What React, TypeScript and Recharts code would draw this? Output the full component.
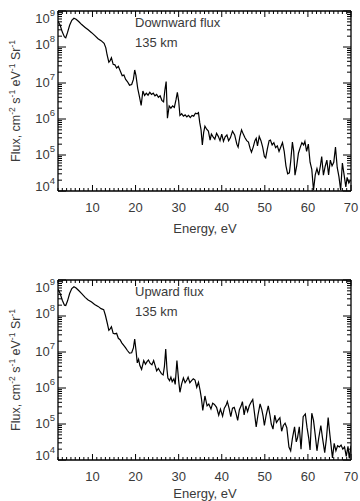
import { LineChart, Line, XAxis, YAxis } from 'recharts';

const FONT = '"Liberation Sans", Arial, Helvetica, sans-serif';
const INK = '#3a3a3a';

// Downward flux at 135 km: energy (eV) and flux (cm^-2 s^-1 eV^-1 Sr^-1)
const downEnergy = [
  2.0, 2.5, 3.0, 3.5, 3.8, 4.2, 4.7, 5.2, 5.7, 6.2,
  6.8, 7.5, 8.3, 9.0, 9.8, 10.5, 11.3, 12.0, 12.7, 13.1,
  13.4, 13.8, 14.1, 14.4, 14.8, 15.2, 15.6, 16.0, 16.5, 16.9,
  17.3, 17.7, 18.1, 18.6, 19.1, 19.5, 19.8, 20.1, 20.5, 20.9,
  21.3, 21.7, 22.1, 22.5, 22.9, 23.3, 23.7, 24.1, 24.5, 24.9,
  25.3, 25.7, 26.1, 26.5, 26.8, 27.1, 27.4, 27.8, 28.2, 28.6,
  29.0, 29.4, 29.7, 30.0, 30.3, 30.7, 31.1, 31.5, 31.9, 32.3,
  32.7, 33.1, 33.5, 33.9, 34.3, 34.6, 34.9, 35.2, 35.5, 35.8,
  36.1, 36.5, 36.9, 37.3, 37.6, 38.0, 38.4, 38.8, 39.2, 39.6,
  40.0, 40.4, 40.8, 41.2, 41.6, 42.0, 42.5, 43.0, 43.5, 43.8,
  44.2, 44.6, 45.0, 45.4, 45.8, 46.2, 46.6, 46.9, 47.3, 47.7,
  48.0, 48.3, 48.7, 49.1, 49.5, 49.9, 50.2, 50.6, 51.0, 51.3,
  51.7, 52.1, 52.5, 52.9, 53.3, 53.7, 54.1, 54.5, 54.9, 55.3,
  55.7, 56.0, 56.4, 56.7, 57.0, 57.4, 57.8, 58.2, 58.6, 59.0,
  59.3, 59.7, 60.1, 60.5, 60.9, 61.3, 61.7, 62.1, 62.5, 62.9,
  63.2, 63.6, 64.0, 64.4, 64.8, 65.2, 65.6, 66.0, 66.4, 66.8,
  67.2, 67.6, 68.0, 68.4, 68.8, 69.1, 69.5, 69.9,
];
const downFlux = [
  5.2e8, 4.0e8, 2.6e8, 1.9e8, 1.8e8, 2.5e8, 4.0e8, 5.5e8, 6.3e8, 5.9e8,
  5.1e8, 4.2e8, 3.5e8, 3.0e8, 2.5e8, 2.1e8, 1.7e8, 1.5e8, 1.26e8, 9.5e7,
  6.0e7, 3.8e7, 4.2e7, 5.0e7, 3.3e7, 3.2e7, 2.6e7, 2.9e7, 2.1e7, 1.6e7,
  1.66e7, 1.26e7, 1.1e7, 8.7e6, 9.1e6, 1.26e7, 2.3e7, 1.6e7, 7.1e6, 4.2e6,
  2.4e6, 6.0e6, 4.5e6, 5.2e6, 4.6e6, 5.5e6, 4.8e6, 5.2e6, 4.4e6, 4.8e6,
  4.0e6, 4.4e6, 3.3e6, 3.0e6, 6.3e6, 1.1e7, 1.05e6, 2.3e6, 2.0e6, 2.3e6,
  2.1e6, 3.5e6, 5.5e6, 3.2e6, 1.26e6, 1.4e6, 1.2e6, 1.3e6, 1.15e6, 1.26e6,
  1.1e6, 1.26e6, 1.2e6, 1.45e6, 1.4e6, 1.5e6, 7.9e5, 5.0e5, 1.9e5, 4.2e5,
  6.3e5, 5.2e5, 4.6e5, 2.6e5, 3.8e5, 3.2e5, 2.75e5, 4.0e5, 3.3e5, 2.5e5,
  3.8e5, 2.4e5, 3.2e5, 3.6e5, 2.5e5, 3.0e5, 4.6e5, 3.6e5, 2.0e5, 1.66e5,
  3.2e5, 5.0e5, 3.8e5, 3.0e5, 2.5e5, 2.3e5, 1.5e5, 1.2e5, 1.66e5, 2.5e5,
  2.9e5, 1.8e5, 3.3e5, 2.5e5, 1.66e5, 9.1e4, 8.3e4, 1.5e5, 2.5e5, 2.6e5,
  1.9e5, 2.2e5, 1.6e5, 1.8e5, 1.26e5, 1.66e5, 2.2e5, 1.26e5, 5.0e4, 3.0e4,
  3.2e4, 6.6e4, 2.3e5, 1.26e5, 2.75e4, 5.0e4, 1.12e5, 1.6e5, 2.2e5, 1.9e5,
  2.4e5, 1.26e5, 2.0e5, 6.3e4, 4.0e4, 1.05e4, 2.8e4, 4.2e4, 2.75e4, 5.0e4,
  9.1e4, 2.75e4, 4.8e4, 7.2e4, 2.8e4, 7.2e4, 5.0e4, 6.3e4, 1.66e5, 4.5e4,
  2.5e4, 1.05e4, 6.0e4, 2.8e4, 1.3e4, 2.4e4, 1.66e4, 2.0e4,
];

// Upward flux at 135 km
const upEnergy = [
  2.0, 2.5, 3.0, 3.5, 3.8, 4.2, 4.7, 5.2, 5.7, 6.2,
  6.8, 7.5, 8.3, 9.0, 9.8, 10.5, 11.3, 12.0, 12.6, 13.0,
  13.4, 13.8, 14.1, 14.4, 14.8, 15.2, 15.6, 16.0, 16.4, 16.8,
  17.3, 17.7, 18.1, 18.6, 19.1, 19.5, 19.8, 20.1, 20.4, 20.7,
  21.0, 21.4, 21.9, 22.3, 22.7, 23.0, 23.4, 23.8, 24.2, 24.6,
  24.9, 25.3, 25.6, 26.0, 26.4, 26.7, 27.0, 27.3, 27.5, 27.9,
  28.2, 28.5, 28.9, 29.2, 29.6, 30.0, 30.3, 30.7, 31.1, 31.5,
  31.9, 32.2, 32.6, 33.0, 33.4, 33.8, 34.2, 34.6, 35.0, 35.3,
  35.6, 36.1, 36.6, 37.0, 37.5, 37.9, 38.3, 38.8, 39.3, 39.7,
  40.2, 40.6, 41.0, 41.3, 41.7, 42.1, 42.5, 42.9, 43.3, 43.7,
  44.1, 44.5, 44.8, 45.2, 45.6, 46.0, 46.4, 46.8, 47.2, 47.6,
  48.0, 48.4, 48.9, 49.3, 49.6, 49.9, 50.3, 50.8, 51.2, 51.5,
  51.9, 52.3, 52.7, 53.1, 53.5, 53.9, 54.3, 54.7, 55.1, 55.6,
  56.0, 56.4, 56.9, 57.3, 57.6, 58.0, 58.4, 58.9, 59.4, 59.8,
  60.2, 60.5, 60.9, 61.3, 61.7, 62.1, 62.5, 63.0, 63.4, 63.9,
  64.3, 64.7, 65.1, 65.7, 66.1, 66.5, 66.9, 67.3, 67.7, 68.1,
  68.5, 68.9, 69.3, 69.6, 70.0,
];
const upFlux = [
  5.5e8, 4.2e8, 2.75e8, 2.0e8, 1.95e8, 2.6e8, 4.2e8, 5.8e8, 6.5e8, 6.0e8,
  5.1e8, 4.2e8, 3.3e8, 2.8e8, 2.45e8, 2.1e8, 1.85e8, 1.6e8, 1.5e8, 1.05e8,
  6.6e7, 4.0e7, 4.4e7, 5.0e7, 3.3e7, 3.2e7, 3.3e7, 2.4e7, 2.2e7, 1.8e7,
  1.5e7, 1.3e7, 1.1e7, 9.3e6, 9.5e6, 1.3e7, 2.3e7, 1.12e7, 5.0e6, 6.3e6,
  4.2e6, 3.3e6, 5.8e6, 4.6e6, 5.5e6, 6.0e6, 4.8e6, 4.4e6, 5.8e6, 4.0e6,
  3.0e6, 3.5e6, 3.0e6, 2.5e6, 2.3e6, 4.0e6, 1.2e7, 3.2e6, 1.9e6, 1.6e6,
  2.0e6, 1.5e6, 1.8e6, 1.26e6, 5.8e6, 1.6e6, 7.6e5, 1.3e6, 1.9e6, 1.4e6,
  1.66e6, 2.0e6, 1.4e6, 1.6e6, 1.8e6, 1.66e6, 1.05e6, 1.45e6, 8.3e5, 5.0e5,
  2.4e5, 6.0e5, 3.2e5, 3.6e5, 2.6e5, 3.8e5, 3.5e5, 2.9e5, 1.75e5, 2.6e5,
  1.66e5, 2.75e5, 3.3e5, 4.2e5, 2.75e5, 1.6e5, 2.75e5, 2.9e5, 2.0e5, 1.26e5,
  2.5e5, 3.2e5, 4.2e5, 1.8e5, 3.2e5, 2.2e5, 3.2e5, 4.0e5, 4.8e5, 2.0e5,
  8.3e4, 1.75e5, 3.6e5, 2.5e5, 1.66e5, 9.1e4, 1.75e5, 3.2e5, 1.75e5, 1.0e5,
  7.2e4, 1.75e5, 1.1e5, 1.3e5, 1.5e5, 6.3e4, 9.1e4, 1.05e5, 7.9e4, 2.3e4,
  1.8e4, 4.0e4, 8.3e4, 3.2e4, 4.2e4, 8.3e4, 2.0e4, 1.6e5, 1.9e5, 7.9e4,
  4.0e4, 1.9e4, 2.0e5, 1.26e5, 5.0e4, 1.8e4, 4.0e4, 9.1e4, 4.0e4, 1.6e4,
  4.0e4, 1.5e5, 5.0e4, 1.15e4, 2.9e4, 1.8e4, 2.5e4, 2.3e4, 2.6e4, 2.0e4,
  2.3e4, 1.26e4, 2.4e4, 1.1e4, 2.5e4,
];

// axis ticks: every eV on the energy axis, 1..9 per decade on the flux axis
const energyTicks = Array.from({ length: 69 }, (_, i) => i + 2);
const decades = [4, 5, 6, 7, 8];
const fluxTicks = [
  ...decades.flatMap((d) => [1, 2, 3, 4, 5, 6, 7, 8, 9].map((k) => k * 10 ** d)),
  1e9,
];
// small vertical nudges of the decade labels
const labelShift: Record<number, number> = { 9: 7, 8: -3, 4: -5 };

const decadeOf = (v: number) => {
  const e = Math.round(Math.log10(v));
  return { e, major: Math.abs(v / 10 ** e - 1) < 1e-9 };
};

function BottomTick({ x, y, payload }: any) {
  const major = payload.value % 10 === 0;
  return (
    <g>
      <line x1={x} x2={x} y1={y} y2={y - (major ? 6 : 3)} stroke="#000" strokeWidth={1} />
      {major && (
        <text x={x} y={y + 21} textAnchor="middle" fontSize={13} fontFamily={FONT} fill={INK}>
          {payload.value}
        </text>
      )}
    </g>
  );
}

function TopTick({ x, y, payload }: any) {
  const major = payload.value % 10 === 0;
  return <line x1={x} x2={x} y1={y} y2={y + (major ? 6 : 3)} stroke="#000" strokeWidth={1} />;
}

function LeftTick({ x, y, payload }: any) {
  const { e, major } = decadeOf(payload.value);
  const base = y + 4.7 + (labelShift[e] ?? -1);
  return (
    <g>
      <line x1={x} x2={x + (major ? 8 : 4)} y1={y} y2={y} stroke="#000" strokeWidth={1} />
      {major && (
        <text x={x - 3} y={base} textAnchor="end" fontSize={13} fontFamily={FONT} fill={INK}>
          <tspan>10</tspan>
          <tspan dy={-7} fontSize={9.5}>{e}</tspan>
        </text>
      )}
    </g>
  );
}

function RightTick({ x, y, payload }: any) {
  const { major } = decadeOf(payload.value);
  return <line x1={x} x2={x - (major ? 8 : 4)} y1={y} y2={y} stroke="#000" strokeWidth={1} />;
}

function FluxTitle() {
  return (
    <text transform="translate(20, 101) rotate(-90)" textAnchor="middle" fontSize={12.5} fontFamily={FONT} fill={INK}>
      <tspan>Flux, cm</tspan>
      <tspan dy={-5} fontSize={8.5}>-2</tspan>
      <tspan dy={5}>{' s'}</tspan>
      <tspan dy={-5} fontSize={8.5}>-1</tspan>
      <tspan dy={5}>{' eV'}</tspan>
      <tspan dy={-5} fontSize={8.5}>-1</tspan>
      <tspan dy={5}>{' Sr'}</tspan>
      <tspan dy={-5} fontSize={8.5}>-1</tspan>
    </text>
  );
}

const axisStroke = { stroke: '#000', strokeWidth: 1.3 };

function Panel({ energy, flux, title, top, height, titleY }: {
  energy: number[]; flux: number[]; title: string; top: number; height: number; titleY: number;
}) {
  const data = energy.map((e, i) => ({ e, f: flux[i] }));
  return (
    <div style={{ position: 'absolute', left: 0, top }}>
      {/* top and right axes get 1px so that they are drawn; the box spans x 58..351, y 11..191 */}
      <LineChart width={360} height={height} data={data} margin={{ top: 10, right: 8, bottom: 0, left: 0 }}>
        <XAxis
          dataKey="e" type="number" domain={[2, 70]} allowDataOverflow ticks={energyTicks} interval={0}
          height={height - 11 - 180} tickSize={0} tickMargin={0} tickLine={false} axisLine={axisStroke}
          tick={BottomTick}
        />
        <XAxis
          xAxisId="top" orientation="top" dataKey="e" type="number" domain={[2, 70]} allowDataOverflow
          ticks={energyTicks} interval={0} height={1} tickSize={0} tickMargin={0} tickLine={false}
          axisLine={axisStroke} tick={TopTick}
        />
        <YAxis
          type="number" scale="log" domain={[1e4, 1e9]} allowDataOverflow ticks={fluxTicks} interval={0}
          width={58} tickSize={0} tickMargin={0} tickLine={false} axisLine={axisStroke} tick={LeftTick}
        />
        <YAxis
          yAxisId="right" orientation="right" type="number" scale="log" domain={[1e4, 1e9]} allowDataOverflow
          ticks={fluxTicks} interval={0} width={1} tickSize={0} tickMargin={0} tickLine={false}
          axisLine={axisStroke} tick={RightTick}
        />
        <Line
          dataKey="f" type="linear" stroke="#000" strokeWidth={1.2} dot={false} activeDot={false}
          isAnimationActive={false}
        />
        <text x={135} y={27} fontSize={13} fontFamily={FONT} fill={INK}>{title}</text>
        <text x={135} y={47} fontSize={13} fontFamily={FONT} fill={INK}>135 km</text>
        <text x={205} y={titleY} textAnchor="middle" fontSize={13} fontFamily={FONT} fill={INK}>Energy, eV</text>
        <FluxTitle />
      </LineChart>
    </div>
  );
}

export default function App() {
  return (
    <div style={{ position: 'absolute', left: 0, top: 0, width: 360, height: 501, background: '#fff', overflow: 'hidden' }}>
      <Panel energy={downEnergy} flux={downFlux} title="Downward flux" top={0} height={245} titleY={233} />
      <Panel energy={upEnergy} flux={upFlux} title="Upward flux" top={269} height={232} titleY={229} />
    </div>
  );
}
